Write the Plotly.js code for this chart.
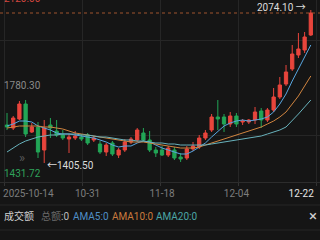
<!DOCTYPE html>
<html><head><meta charset="utf-8">
<script src="https://cdn.plot.ly/plotly-3.0.1.min.js"></script>
<style>html,body{margin:0;padding:0;background:#151515;}#c{width:320px;height:240px;}</style>
</head><body><div id="c"></div>
<script>
const dates = ['2025-10-14','2025-10-15','2025-10-16','2025-10-17','2025-10-20','2025-10-21','2025-10-22','2025-10-23','2025-10-24','2025-10-27','2025-10-28','2025-10-29','2025-10-30','2025-10-31',
'2025-11-03','2025-11-04','2025-11-05','2025-11-06','2025-11-07','2025-11-10','2025-11-11','2025-11-12','2025-11-13','2025-11-14','2025-11-17','2025-11-18','2025-11-19','2025-11-20','2025-11-21','2025-11-24','2025-11-25','2025-11-26','2025-11-27','2025-11-28',
'2025-12-01','2025-12-02','2025-12-03','2025-12-04','2025-12-05','2025-12-08','2025-12-09','2025-12-10','2025-12-11','2025-12-12','2025-12-15','2025-12-16','2025-12-17','2025-12-18','2025-12-19','2025-12-22'];
const opens = [1571.6,1558.4,1597.8,1663.3,1541.0,1562.8,1462.3,1571.6,1545.3,1527.9,
1510.4,1514.7,1519.1,1527.9,1506.0,1488.5,1453.6,1492.9,1440.4,1462.3,
1497.3,1506.0,1536.6,1506.0,1462.3,1462.3,1440.4,1462.3,1431.7,1427.3,
1466.7,1475.4,1514.7,1549.7,1606.5,1606.5,1575.9,1610.9,1584.7,1584.7,
1593.4,1632.7,1593.4,1637.1,1693.9,1750.7,1816.3,1877.5,1899.3,1964.8];
const highs = [1624.0,1610.9,1676.4,1680.8,1580.3,1584.7,1593.4,1602.1,1593.4,1549.7,
1532.2,1545.3,1532.2,1536.6,1523.5,1501.6,1492.9,1501.6,1471.0,1510.4,
1519.1,1558.4,1558.4,1545.3,1475.4,1479.8,1479.8,1475.4,1449.2,1479.8,
1497.3,1527.9,1549.7,1619.6,1680.8,1619.6,1628.4,1624.0,1597.8,1597.8,
1650.2,1645.8,1645.8,1733.2,1781.3,1833.8,1921.2,1973.6,1978.0,2074.1];
const lows = [1549.7,1549.7,1593.4,1519.1,1536.6,1427.3,1405.5,1514.7,1519.1,1506.0,
1449.2,1506.0,1501.6,1484.1,1497.3,1444.8,1436.1,1436.1,1427.3,1453.6,
1488.5,1497.3,1497.3,1453.6,1431.7,1436.1,1431.7,1418.6,1409.9,1418.6,
1457.9,1466.7,1506.0,1541.0,1549.7,1541.0,1562.8,1562.8,1571.6,1575.9,
1575.9,1558.4,1584.7,1628.4,1685.2,1742.0,1807.5,1864.3,1886.2,1960.5];
const closes = [1562.8,1602.1,1663.3,1532.2,1562.8,1453.6,1558.4,1558.4,1527.9,1514.7,
1519.1,1523.5,1510.4,1492.9,1514.7,1453.6,1484.1,1444.8,1462.3,1497.3,
1510.4,1549.7,1506.0,1462.3,1449.2,1440.4,1471.0,1427.3,1423.0,1466.7,
1479.8,1514.7,1536.6,1606.5,1597.8,1575.9,1610.9,1575.9,1589.0,1593.4,
1628.4,1593.4,1637.1,1693.9,1746.4,1803.2,1881.8,1903.7,1956.1,2061.0];
const ma5 = [1567.2,1575.9,1589.0,1589.0,1584.7,1567.2,1558.4,1549.7,1536.6,1532.2,
1532.2,1527.9,1523.5,1519.1,1514.7,1506.0,1497.3,1484.1,1475.4,1479.8,
1479.8,1492.9,1501.6,1497.3,1484.1,1471.0,1462.3,1453.6,1444.8,1444.8,
1457.9,1475.4,1492.9,1519.1,1545.3,1567.2,1580.3,1589.0,1593.4,1589.0,
1593.4,1597.8,1606.5,1628.4,1663.3,1707.0,1763.8,1816.3,1868.7,1921.2];
const ma10 = [1558.4,1562.8,1567.2,1567.2,1567.2,1567.2,1562.8,1562.8,1558.4,1554.1,
1545.3,1536.6,1532.2,1527.9,1523.5,1519.1,1514.7,1510.4,1506.0,1501.6,
1497.3,1497.3,1497.3,1492.9,1488.5,1484.1,1479.8,1475.4,1471.0,1471.0,
1471.0,1475.4,1484.1,1492.9,1501.6,1510.4,1519.1,1527.9,1536.6,1545.3,
1554.1,1562.8,1575.9,1589.0,1606.5,1628.4,1663.3,1698.3,1742.0,1785.7];
const ma20 = [1453.6,1471.0,1488.5,1501.6,1510.4,1519.1,1523.5,1527.9,1527.9,1532.2,
1532.2,1532.2,1527.9,1527.9,1523.5,1519.1,1519.1,1514.7,1510.4,1506.0,
1506.0,1501.6,1501.6,1497.3,1492.9,1492.9,1488.5,1488.5,1484.1,1484.1,
1484.1,1484.1,1484.1,1488.5,1492.9,1497.3,1501.6,1506.0,1510.4,1514.7,
1519.1,1523.5,1532.2,1541.0,1549.7,1562.8,1589.0,1619.6,1650.2,1680.8];
const tickDates = ['2025-10-14','2025-10-31','2025-11-18','2025-12-04','2025-12-22'];
const tickLabels = ['2025-10-14','10-31','11-18','12-04','12-22'];
const priceLabels = ['2120.00','1780.30','1431.72'];
const legendLabels = ['成交额','总额:0','AMA5:0','AMA10:0','AMA20:0'];

const idx = dates.map((d,i)=>i);
const tickIdx = tickDates.map(d=>dates.indexOf(d));
const H = 182; // plot height px
const py = v => (H - v)/H;
const px = v => v/320;
const FONT = 'Roboto, "Noto Sans CJK SC", sans-serif';
const xr = [-1.13, 50.48];
const gridX = [0,1,2,3,4].map(k => xr[0] + (4 + 78*k)/320*(xr[1]-xr[0]));

const iMax = highs.indexOf(Math.max(...highs));
const iMin = lows.indexOf(Math.min(...lows));
const lastClose = closes[closes.length-1];

const traces = [
 {type:'candlestick', x:idx, open:opens, high:highs, low:lows, close:closes,
  increasing:{line:{color:'#e8453c',width:1},fillcolor:'#e8453c'},
  decreasing:{line:{color:'#22a556',width:1},fillcolor:'#22a556'},
  whiskerwidth:0, hoverinfo:'skip', showlegend:false},
 {type:'scatter',mode:'lines',x:idx,y:ma5,line:{color:'#58a6e0',width:1},showlegend:false,hoverinfo:'skip'},
 {type:'scatter',mode:'lines',x:idx,y:ma10,line:{color:'#d0843f',width:1},showlegend:false,hoverinfo:'skip'},
 {type:'scatter',mode:'lines',x:idx,y:ma20,line:{color:'#68b2bc',width:1},showlegend:false,hoverinfo:'skip'},
 {type:'scatter',mode:'markers',x:tickIdx.slice(1,4),y:[null,null,null],xaxis:'x2',showlegend:false,hoverinfo:'skip'},
 {type:'scatter',mode:'markers',x:[tickIdx[0]],y:[null],xaxis:'x3',showlegend:false,hoverinfo:'skip'},
 {type:'scatter',mode:'markers',x:[tickIdx[4]],y:[null],xaxis:'x4',showlegend:false,hoverinfo:'skip'}
];

const tf = {family:FONT,size:10,color:'#7d7d7d'};
const ann = (text,x,y,color,extra) => Object.assign({text:text,xref:'paper',yref:'paper',x:px(x),y:py(y),xanchor:'left',yanchor:'middle',showarrow:false,font:{family:FONT,size:10,color:color}},extra||{});

const layout = {
 width:320,height:240,margin:{l:0,r:0,t:0,b:240-H},
 paper_bgcolor:'#151515',plot_bgcolor:'#151515',showlegend:false,boxgap:0.25,
 xaxis:{range:xr,tickmode:'array',tickvals:gridX,showticklabels:false,ticks:'outside',ticklen:3,tickcolor:'#333',
   showgrid:true,gridcolor:'#262626',gridwidth:1,zeroline:false,showline:true,linecolor:'#2c2c2c',rangeslider:{visible:false},fixedrange:true},
 xaxis2:{overlaying:'x',matches:'x',anchor:'y',tickmode:'array',tickvals:tickIdx.slice(1,4),ticktext:tickLabels.slice(1,4),
   showgrid:false,zeroline:false,showline:false,ticks:'',tickfont:tf,ticklabelstandoff:4,rangeslider:{visible:false}},
 xaxis3:{overlaying:'x',matches:'x',anchor:'y',tickmode:'array',tickvals:[tickIdx[0]],ticktext:[tickLabels[0]],ticklabelposition:'outside right',ticklabelshift:-4,
   showgrid:false,zeroline:false,showline:false,ticks:'',tickfont:tf,ticklabelstandoff:4,rangeslider:{visible:false}},
 xaxis4:{overlaying:'x',matches:'x',anchor:'y',tickmode:'array',tickvals:[tickIdx[4]],ticktext:[tickLabels[4]],ticklabelposition:'outside left',ticklabelshift:3,
   showgrid:false,zeroline:false,showline:false,ticks:'',tickfont:{family:FONT,size:10,color:'#e6e6e6'},ticklabelstandoff:4,rangeslider:{visible:false}},
 yaxis:{range:[1322.5,2117.8],tickmode:'array',tickvals:[1943.0,1527.9],showticklabels:false,showgrid:true,gridcolor:'#262626',zeroline:false,fixedrange:true},
 shapes:[
  {type:'line',xref:'paper',x0:0,x1:1,yref:'y',y0:lastClose,y1:lastClose,line:{color:'#a0552f',width:1,dash:'dot'}},
  {type:'line',xref:'paper',x0:0,x1:1,yref:'paper',y0:py(205),y1:py(205),line:{color:'#262626',width:1}},
  {type:'line',xref:'paper',x0:0,x1:1,yref:'paper',y0:py(230),y1:py(230),line:{color:'#262626',width:1}}
 ],
 annotations:[
  ann(priceLabels[0],2,-2,'#d2463f'),
  ann(priceLabels[1],2,85,'#8a8a8a'),
  ann(priceLabels[2],2,173,'#2fa35b'),
  {text:highs[iMax].toFixed(2)+' →',xref:'x',yref:'y',x:iMax,y:highs[iMax],xanchor:'right',yanchor:'middle',xshift:-3,yshift:3,showarrow:false,font:{family:FONT,size:10,color:'#dcdcdc'}},
  {text:'←'+lows[iMin].toFixed(2),xref:'x',yref:'y',x:iMin,y:lows[iMin],xanchor:'left',yanchor:'middle',xshift:1,yshift:-2,showarrow:false,font:{family:FONT,size:10,color:'#dcdcdc'}},
  ann('»',17,157,'#5a5a5a',{font:{family:FONT,size:13,color:'#5a5a5a'}}),
  ann(legendLabels[0],2,216,'#cfcfcf'),
  ann('<span style="color:#6a6a6a">总额</span>:0',39,216,'#bdbdbd'),
  ann(legendLabels[2],71,216,'#4f8fc7'),
  ann(legendLabels[3],110,216,'#c97b3d'),
  ann(legendLabels[4],154,216,'#4ba6a6'),
  ann('×',313,216,'#cfcfcf',{xanchor:'center',font:{family:FONT,size:15,color:'#cfcfcf'}})
 ]
};
Plotly.newPlot('c',traces,layout,{displayModeBar:false,staticPlot:true});
</script></body></html>
